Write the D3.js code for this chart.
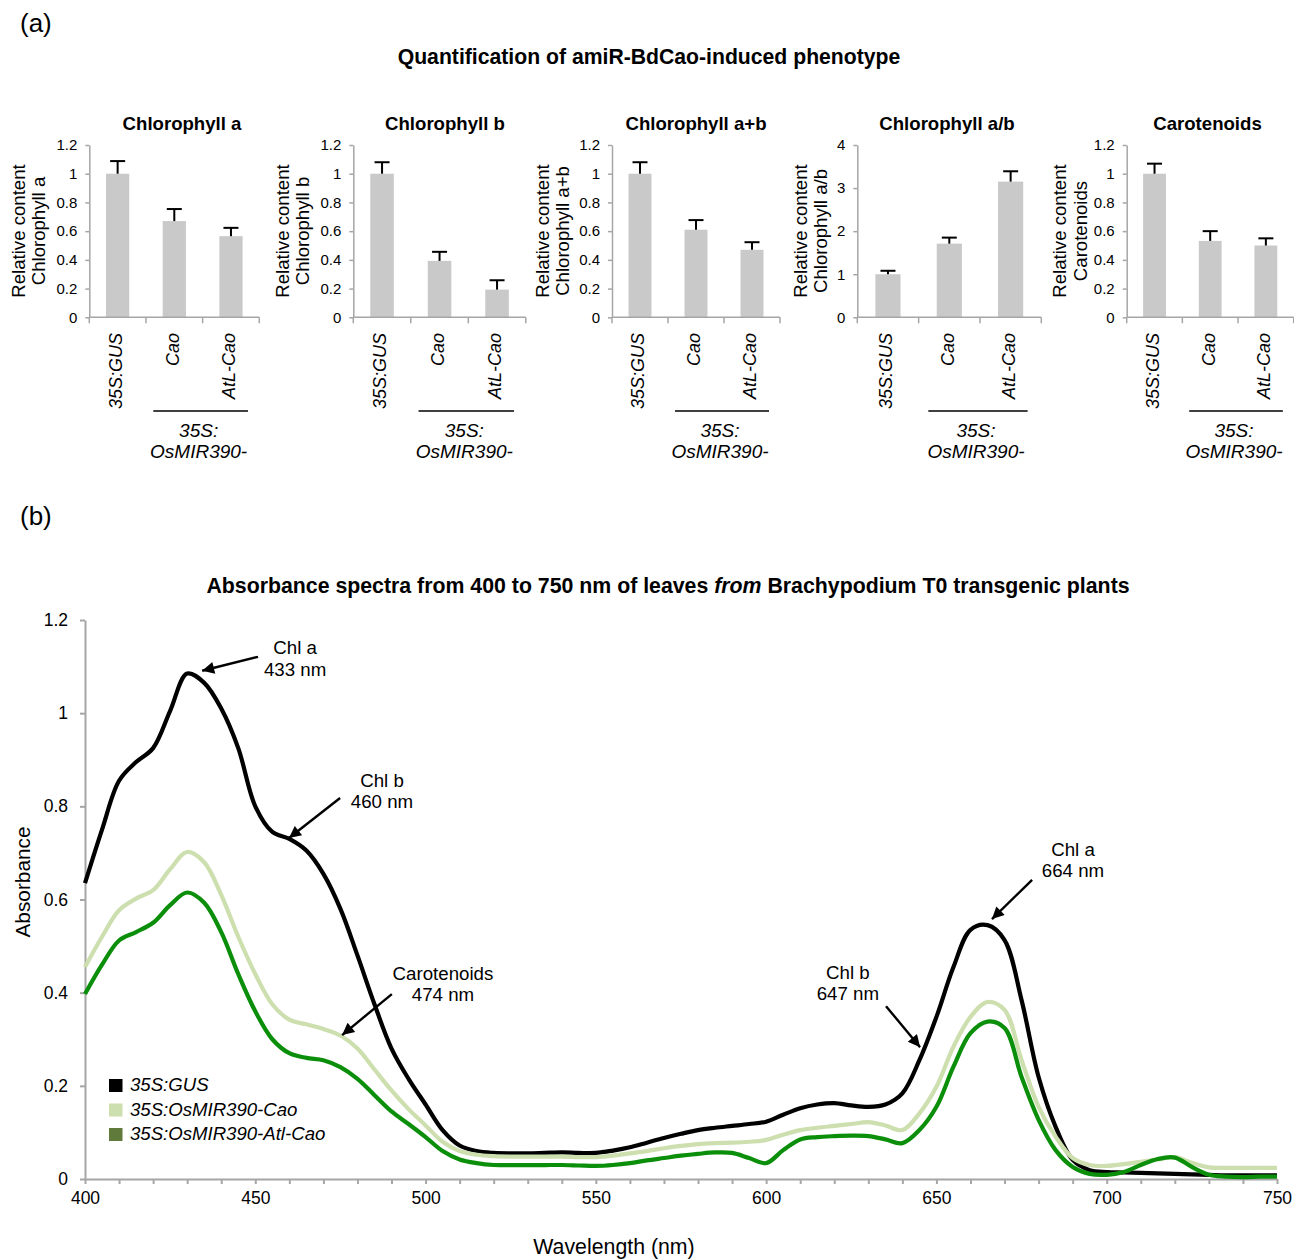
<!DOCTYPE html>
<html><head><meta charset="utf-8">
<script src="https://cdn.jsdelivr.net/npm/d3@7"></script>
<style>
body{margin:0;background:#fff}
svg{display:block;font-family:"Liberation Sans",Arial,sans-serif}
</style>
</head><body><svg id="c" width="1294" height="1259"></svg>
<script>
// ---------------- DATA ----------------
const categories = ["35S:GUS", "Cao", "AtL-Cao"];
const panelTitles = ["Chlorophyll a", "Chlorophyll b", "Chlorophyll a+b", "Chlorophyll a/b", "Carotenoids"];
const panelYLabels = [
  ["Relative content", "Chlorophyll a"],
  ["Relative content", "Chlorophyll b"],
  ["Relative content", "Chlorophyll a+b"],
  ["Relative content", "Chlorophyll a/b"],
  ["Relative content", "Carotenoids"]
];
const chlAValues = [1.0, 0.67, 0.565];
const chlAErrors = [0.088, 0.084, 0.058];
const chlBValues = [1.0, 0.393, 0.193];
const chlBErrors = [0.08, 0.063, 0.065];
const chlABValues = [1.0, 0.61, 0.47];
const chlABErrors = [0.08, 0.067, 0.053];
const ratioValues = [1.0, 1.71, 3.15];
const ratioErrors = [0.08, 0.14, 0.24];
const carValues = [1.0, 0.532, 0.50];
const carErrors = [0.07, 0.068, 0.05];
const relTicks = [0, 0.2, 0.4, 0.6, 0.8, 1, 1.2];
const ratioTicks = [0, 1, 2, 3, 4];
const bracketLabel = ["35S:", "OsMIR390-"];

const wavelengths = [400,405,410,415,420,425,430,435,440,445,450,455,460,465,470,475,480,485,490,495,
  500,505,510,515,520,525,530,535,540,545,550,555,560,565,570,575,580,585,590,595,
  600,605,610,615,620,625,630,635,640,645,650,655,660,665,670,675,680,685,690,695,
  700,705,710,715,720,725,730,735,740,745,750];
const gusAbs = [0.635,0.75,0.855,0.895,0.925,1.005,1.085,1.065,1.01,0.925,0.80,0.745,0.73,0.705,0.655,0.58,0.48,0.375,0.28,0.215,
  0.16,0.105,0.072,0.06,0.056,0.055,0.055,0.056,0.057,0.056,0.056,0.061,0.068,0.078,0.088,0.097,0.105,0.11,0.114,0.118,
  0.123,0.138,0.152,0.16,0.163,0.158,0.155,0.16,0.184,0.255,0.348,0.455,0.535,0.545,0.513,0.384,0.219,0.112,0.041,0.019,
  0.015,0.014,0.013,0.012,0.011,0.010,0.009,0.008,0.008,0.008,0.008];
const caoAbs = [0.455,0.52,0.577,0.602,0.62,0.665,0.702,0.68,0.61,0.52,0.44,0.375,0.342,0.332,0.322,0.308,0.28,0.235,0.19,0.15,
  0.115,0.08,0.06,0.052,0.049,0.048,0.048,0.048,0.048,0.047,0.047,0.05,0.055,0.06,0.066,0.071,0.075,0.077,0.078,0.08,
  0.084,0.095,0.105,0.11,0.114,0.118,0.122,0.115,0.105,0.141,0.198,0.284,0.348,0.38,0.363,0.255,0.155,0.091,0.045,0.03,
  0.028,0.032,0.037,0.042,0.047,0.035,0.025,0.024,0.024,0.024,0.024];
const atlCaoAbs = [0.397,0.46,0.512,0.53,0.55,0.588,0.615,0.593,0.53,0.44,0.36,0.30,0.27,0.26,0.255,0.24,0.215,0.18,0.145,0.118,
  0.09,0.06,0.042,0.034,0.030,0.030,0.030,0.030,0.030,0.029,0.028,0.03,0.034,0.04,0.045,0.05,0.054,0.057,0.056,0.045,
  0.034,0.062,0.085,0.09,0.092,0.093,0.092,0.085,0.077,0.105,0.155,0.241,0.313,0.338,0.324,0.219,0.127,0.062,0.026,0.011,
  0.009,0.015,0.030,0.043,0.046,0.026,0.009,0.005,0.004,0.005,0.005];
const seriesNames = ["35S:GUS", "35S:OsMIR390-Cao", "35S:OsMIR390-Atl-Cao"];
const specYTicks = [0, 0.2, 0.4, 0.6, 0.8, 1, 1.2];
const specXTicks = [400,410,420,430,440,450,460,470,480,490,500,510,520,530,540,550,560,570,580,590,600,610,620,630,640,650,660,670,680,690,700,710,720,730,740,750];
const specXLabels = [400, 450, 500, 550, 600, 650, 700, 750];
// annotations: [line1, line2, textNm, textAbs, tipNm, tipAbs, tailNm, tailAbs]
const annotations = [
  ["Chl a", "433 nm", 461.7, 1.14, 434.4, 1.091, 450.8, 1.121],
  ["Chl b", "460 nm", 487.2, 0.856, 459.9, 0.732, 474.9, 0.818],
  ["Carotenoids", "474 nm", 505.1, 0.442, 475.5, 0.309, 490.1, 0.397],
  ["Chl b", "647 nm", 624.0, 0.444, 645.2, 0.283, 635.2, 0.371],
  ["Chl a", "664 nm", 690.1, 0.708, 666.3, 0.558, 678.1, 0.642]
];

// ---------------- DRAW ----------------
const svg = d3.select("#c");
const AX = "#a6a6a6";

svg.append("text").attr("x", 20).attr("y", 32).attr("font-size", 26).text("(a)");
svg.append("text").attr("x", 649).attr("y", 64).attr("text-anchor", "middle")
  .attr("font-size", 21.2).attr("font-weight", "bold").text("Quantification of amiR-BdCao-induced phenotype");

const panelData = [
  {v: chlAValues, e: chlAErrors, ticks: relTicks, max: 1.2},
  {v: chlBValues, e: chlBErrors, ticks: relTicks, max: 1.2},
  {v: chlABValues, e: chlABErrors, ticks: relTicks, max: 1.2},
  {v: ratioValues, e: ratioErrors, ticks: ratioTicks, max: 4},
  {v: carValues, e: carErrors, ticks: relTicks, max: 1.2}
];
const panelLayout = [
  {x: 89.3, w: 170, lab: -71, tc: 182},
  {x: 353.3, w: 172.5, lab: -71, tc: 445},
  {x: 612, w: 168, lab: -70, tc: 696},
  {x: 857.3, w: 184, lab: -57, tc: 947},
  {x: 1126.7, w: 167, lab: -67, tc: 1207.5}
];
const barTop = 145, barBottom = 317.3;

panelData.forEach((pd, i) => {
  const L = panelLayout[i];
  const g = svg.append("g");
  const y = d3.scaleLinear().domain([0, pd.max]).range([barBottom, barTop]);
  const xb = d3.scaleBand().domain(categories).range([L.x, L.x + L.w]).paddingInner(0.59).paddingOuter(0.295);
  const step = xb.step();
  g.selectAll("rect.bar").data(categories).join("rect")
    .attr("x", d => xb(d)).attr("width", xb.bandwidth())
    .attr("y", (d, j) => y(pd.v[j])).attr("height", (d, j) => barBottom - y(pd.v[j]))
    .attr("fill", "#c9c9c9");
  categories.forEach((c, j) => {
    const cx = xb(c) + xb.bandwidth() / 2;
    g.append("line").attr("x1", cx).attr("x2", cx).attr("y1", y(pd.v[j])).attr("y2", y(pd.v[j] + pd.e[j]))
      .attr("stroke", "#000").attr("stroke-width", 2);
    g.append("line").attr("x1", cx - 7.5).attr("x2", cx + 7.5).attr("y1", y(pd.v[j] + pd.e[j])).attr("y2", y(pd.v[j] + pd.e[j]))
      .attr("stroke", "#000").attr("stroke-width", 2);
  });
  const ya = d3.axisLeft(y).tickValues(pd.ticks).tickSize(4).tickSizeOuter(0).tickPadding(8)
    .tickFormat(d => String(d));
  const yg = g.append("g").attr("transform", `translate(${L.x},0)`).call(ya);
  yg.selectAll("path,line").attr("stroke", AX).attr("stroke-width", 1.5);
  yg.selectAll("text").attr("font-size", 15).attr("font-family", "Liberation Sans, Arial").attr("fill", "#000");
  g.append("line").attr("x1", L.x).attr("x2", L.x + L.w).attr("y1", barBottom).attr("y2", barBottom)
    .attr("stroke", AX).attr("stroke-width", 1.5);
  [0, 1, 2, 3].forEach(k => {
    g.append("line").attr("x1", L.x + k * step).attr("x2", L.x + k * step)
      .attr("y1", barBottom).attr("y2", barBottom + 6).attr("stroke", AX).attr("stroke-width", 1.5);
  });
  g.selectAll("text.cat").data(categories).join("text")
    .attr("transform", d => `translate(${xb(d) + xb.bandwidth() / 2 - 2},333) rotate(-90)`)
    .attr("text-anchor", "end").attr("dy", "0.35em").attr("font-size", 18).attr("font-style", "italic")
    .text(d => d);
  const c2 = xb(categories[1]) + xb.bandwidth() / 2, c3 = xb(categories[2]) + xb.bandwidth() / 2;
  const bx1 = c2 - 21, bx2 = c3 + 17;
  g.append("line").attr("x1", bx1).attr("x2", bx2).attr("y1", 411).attr("y2", 411).attr("stroke", "#000").attr("stroke-width", 1.3);
  g.append("text").attr("x", (bx1 + bx2) / 2 - 2).attr("y", 437).attr("text-anchor", "middle")
    .attr("font-size", 19).attr("font-style", "italic").text(bracketLabel[0]);
  g.append("text").attr("x", (bx1 + bx2) / 2 - 2).attr("y", 458).attr("text-anchor", "middle")
    .attr("font-size", 19).attr("font-style", "italic").text(bracketLabel[1]);
  panelYLabels[i].forEach((t, k) => {
    g.append("text").attr("transform", `translate(${L.x + L.lab + k * 20.5},231) rotate(-90)`)
      .attr("text-anchor", "middle").attr("dy", "0.35em").attr("font-size", 18.6).text(t);
  });
  g.append("text").attr("x", L.tc).attr("y", 130).attr("text-anchor", "middle")
    .attr("font-size", 18.6).attr("font-weight", "bold").text(panelTitles[i]);
});

// ---------------- PANEL B ----------------
svg.append("text").attr("x", 20).attr("y", 525).attr("font-size", 26).text("(b)");
const tb = svg.append("text").attr("x", 668).attr("y", 593).attr("text-anchor", "middle")
  .attr("font-size", 21.3).attr("font-weight", "bold");
tb.append("tspan").text("Absorbance spectra from 400 to 750 nm of leaves ");
tb.append("tspan").attr("font-style", "italic").text("from");
tb.append("tspan").text(" Brachypodium T0 transgenic plants");

const x = d3.scaleLinear().domain([400, 750]).range([85, 1277]);
const y = d3.scaleLinear().domain([0, 1.2]).range([1179, 620]);

const xa = d3.axisBottom(x).tickValues(specXTicks).tickSize(5).tickSizeOuter(0).tickPadding(8)
  .tickFormat(d => specXLabels.includes(d) ? String(d) : "");
const xg = svg.append("g").attr("transform", "translate(0,1179)").call(xa);
xg.selectAll("path,line").attr("stroke", AX).attr("stroke-width", 2);
xg.selectAll("text").attr("font-size", 17.5).attr("font-family", "Liberation Sans, Arial").attr("fill", "#000");

const yaS = d3.axisLeft(y).tickValues(specYTicks).tickSize(5).tickSizeOuter(0).tickPadding(12)
  .tickFormat(d => String(d));
const ygS = svg.append("g").attr("transform", "translate(85,0)").call(yaS);
ygS.selectAll("path,line").attr("stroke", AX).attr("stroke-width", 2);
ygS.selectAll("text").attr("font-size", 17.5).attr("font-family", "Liberation Sans, Arial").attr("fill", "#000");

svg.append("text").attr("x", 614).attr("y", 1254).attr("text-anchor", "middle").attr("font-size", 21.3).text("Wavelength (nm)");
svg.append("text").attr("transform", "translate(23,882) rotate(-90)").attr("text-anchor", "middle")
  .attr("dy", "0.35em").attr("font-size", 20.8).text("Absorbance");

const lineColors = ["#000000", "#cddfae", "#0b8f0b"];
const legendColors = ["#000000", "#cddfae", "#5f7a3a"];
const seriesVals = [gusAbs, caoAbs, atlCaoAbs];
const line = d3.line().x((d, i) => x(wavelengths[i])).y(d => y(d)).curve(d3.curveCatmullRom.alpha(0.5));
seriesVals.forEach((s, k) => {
  svg.append("path").datum(s).attr("d", line).attr("fill", "none")
    .attr("stroke", lineColors[k]).attr("stroke-width", 4.2).attr("stroke-linejoin", "round");
});

svg.append("defs").append("marker").attr("id", "ah").attr("viewBox", "0 0 10 10")
  .attr("refX", 10).attr("refY", 5).attr("markerWidth", 6.2).attr("markerHeight", 5)
  .attr("markerUnits", "strokeWidth").attr("orient", "auto")
  .append("path").attr("d", "M0,0 L10,5 L0,10 Z").attr("fill", "#000");
annotations.forEach(a => {
  svg.append("line").attr("x1", x(a[6])).attr("y1", y(a[7])).attr("x2", x(a[4])).attr("y2", y(a[5]))
    .attr("stroke", "#000").attr("stroke-width", 2.4).attr("marker-end", "url(#ah)");
  svg.append("text").attr("x", x(a[2])).attr("y", y(a[3])).attr("dy", "0.35em").attr("text-anchor", "middle")
    .attr("font-size", 18.7).text(a[0]);
  svg.append("text").attr("x", x(a[2])).attr("y", y(a[3]) + 21.5).attr("dy", "0.35em").attr("text-anchor", "middle")
    .attr("font-size", 18.7).text(a[1]);
});

seriesNames.forEach((n, k) => {
  svg.append("rect").attr("x", 109).attr("y", 1079 + k * 24.5).attr("width", 13.5).attr("height", 13)
    .attr("fill", legendColors[k]);
  svg.append("text").attr("x", 130).attr("y", 1091 + k * 24.5).attr("font-size", 18.6)
    .attr("font-style", "italic").text(n);
});
</script>
</body></html>
